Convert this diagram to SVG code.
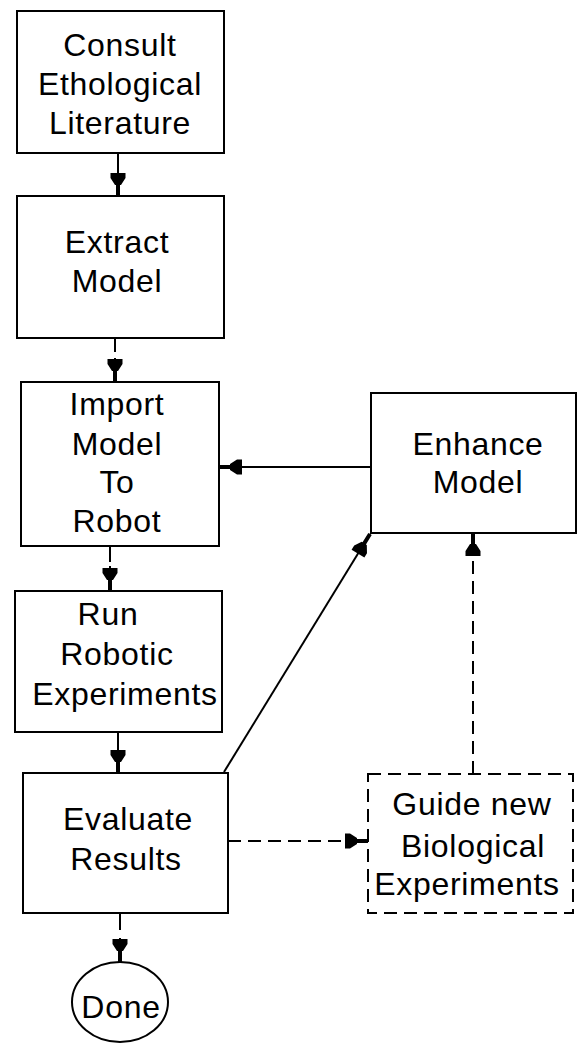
<svg xmlns="http://www.w3.org/2000/svg" width="577" height="1046" viewBox="0 0 577 1046">
  <style>
    .box { fill: #fff; stroke: #000; stroke-width: 2; }
    .dbox { fill: #fff; stroke: #000; stroke-width: 2; stroke-dasharray: 13 7; }
    .lbl { font-family: "Liberation Sans", Arial, sans-serif; font-size: 32px; letter-spacing: 0.7px; fill: #000; text-anchor: middle; }
    .ln { fill: none; stroke: #000; stroke-width: 2; }
    .dln { fill: none; stroke: #000; stroke-width: 2; stroke-dasharray: 13 7; }
  </style>
  <defs>
    <marker id="head" markerUnits="userSpaceOnUse" orient="auto" refX="0" refY="0" markerWidth="30" markerHeight="20" overflow="visible">
      <path d="M -23 -7.5 L -18 -7.5 L -11 -3 L -11 -2 L 0 -2 L 0 2 L -11 2 L -11 3 L -18 7.5 L -23 7.5 Z" fill="#000"/>
    </marker>
  </defs>
  <rect width="577" height="1046" fill="#fff"/>

  <g id="connectors">
    <!-- Consult -> Extract -->
    <line class="ln" x1="118" y1="153" x2="118" y2="196" marker-end="url(#head)"/>
    <!-- Extract -> Import -->
    <line class="ln" x1="115" y1="338" x2="115" y2="352"/>
    <line class="ln" x1="115" y1="358" x2="115" y2="382" marker-end="url(#head)"/>
    <!-- Enhance -> Import -->
    <line class="ln" x1="371" y1="467" x2="219" y2="467" marker-end="url(#head)"/>
    <!-- Import -> Run -->
    <line class="ln" x1="110" y1="546" x2="110" y2="562"/>
    <line class="ln" x1="110" y1="566" x2="110" y2="591" marker-end="url(#head)"/>
    <!-- Run -> Evaluate -->
    <line class="ln" x1="118" y1="732" x2="118" y2="773" marker-end="url(#head)"/>
    <!-- Evaluate -> Enhance -->
    <line class="ln" x1="224" y1="772" x2="370" y2="534" marker-end="url(#head)"/>
    <!-- Evaluate -> Guide (dashed) -->
    <line class="dln" x1="228" y1="841" x2="368" y2="841" marker-end="url(#head)"/>
    <!-- Guide -> Enhance (dashed) -->
    <line class="dln" x1="473" y1="774" x2="473" y2="533" marker-end="url(#head)"/>
    <!-- Evaluate -> Done -->
    <line class="ln" x1="120" y1="913" x2="120" y2="930"/>
    <line class="ln" x1="120" y1="938" x2="120" y2="962" marker-end="url(#head)"/>
  </g>

  <g id="consult">
    <rect class="box" x="17" y="11" width="207" height="142"/>
    <text class="lbl" x="120" y="56">Consult</text>
    <text class="lbl" x="120" y="95">Ethological</text>
    <text class="lbl" x="120" y="134">Literature</text>
  </g>

  <g id="extract">
    <rect class="box" x="17" y="196" width="207" height="142"/>
    <text class="lbl" x="117" y="253">Extract</text>
    <text class="lbl" x="117" y="292">Model</text>
  </g>

  <g id="import">
    <rect class="box" x="21" y="382" width="198" height="164"/>
    <text class="lbl" x="117" y="415">Import</text>
    <text class="lbl" x="117" y="455">Model</text>
    <text class="lbl" x="117" y="493">To</text>
    <text class="lbl" x="117" y="532">Robot</text>
  </g>

  <g id="enhance">
    <rect class="box" x="371" y="393" width="205" height="140"/>
    <text class="lbl" x="478" y="455">Enhance</text>
    <text class="lbl" x="478" y="493">Model</text>
  </g>

  <g id="run">
    <rect class="box" x="15" y="591" width="207" height="141"/>
    <text class="lbl" x="108" y="625">Run</text>
    <text class="lbl" x="117" y="665">Robotic</text>
    <text class="lbl" x="125" y="705">Experiments</text>
  </g>

  <g id="evaluate">
    <rect class="box" x="23" y="773" width="205" height="140"/>
    <text class="lbl" x="128" y="830">Evaluate</text>
    <text class="lbl" x="126" y="870">Results</text>
  </g>

  <g id="guide">
    <rect class="dbox" x="368" y="774" width="205" height="139"/>
    <text class="lbl" x="472" y="815">Guide new</text>
    <text class="lbl" x="473" y="857">Biological</text>
    <text class="lbl" x="467" y="895">Experiments</text>
  </g>

  <g id="done">
    <ellipse class="box" cx="120" cy="1002" rx="48" ry="40"/>
    <text class="lbl" x="121" y="1018">Done</text>
  </g>
</svg>
